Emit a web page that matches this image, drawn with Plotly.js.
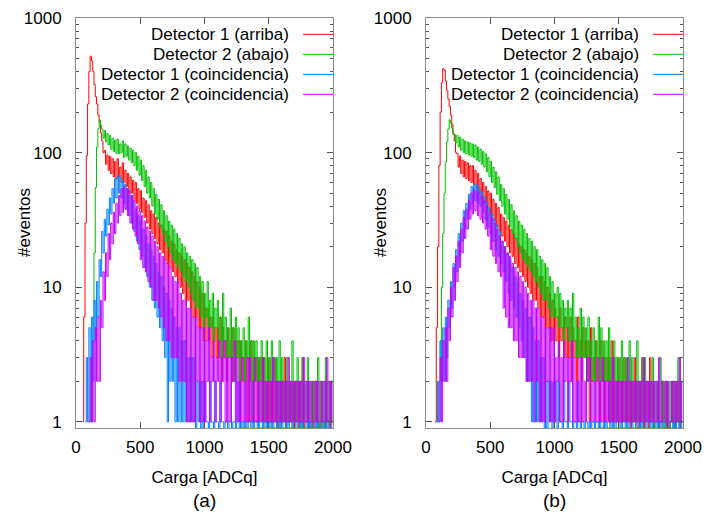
<!DOCTYPE html>
<html>
<head>
<meta charset="utf-8">
<script src="https://cdn.plot.ly/plotly-3.0.1.min.js"></script>
<style>html,body{margin:0;padding:0;background:#fff}#chart{width:713px;height:512px}</style>
</head>
<body>
<div id="chart"></div>
<script>
// ---- data (histogram counts, bins of 10 ADCq starting at 0) ----
const binWidth = 10;
const seriesNames = ['Detector 1 (arriba)', 'Detector 2 (abajo)', 'Detector 1 (coincidencia)', 'Detector 2 (coincidencia)'];
const seriesColors = ['#ff0000', '#00c000', '#0080ff', '#c000ff'];
const panelLabels = ['(a)', '(b)'];
const xTitle = 'Carga [ADCq]';
const yTitle = '#eventos';
const xTickVals = [0, 500, 1000, 1500, 2000];
const yTickVals = [1, 10, 100, 1000];
const yTickText = ['1', '10', '100', '1000'];
const yMinorVals = [2,3,4,5,6,7,8,9,20,30,40,50,60,70,80,90,200,300,400,500,600,700,800,900];

const redA = [
 0,0,0,0,0,1,6,30,95,230,
 400,520,480,400,320,260,230,190,170,140,
 122,100,104,82,96,74,94,70,90,66,
 86,64,90,66,78,60,84,60,74,56,
 70,50,66,50,62,44,60,42,54,38,
 52,36,46,33,44,30,41,27,37,25,
 35,23,33,21,30,19,29,18,27,16,
 26,15,24,14,22,13,21,12,19,11,
 18,10,17,9,16,8,15,8,14,7,
 13,6,12,6,11,5,10,5,9,4,
 7,4,7,4,6,3,6,4,5,3,
 5,3,6,2,5,3,4,2,5,3,
 4,2,5,2,4,3,4,1,4,2,
 3,2,4,1,3,2,4,1,3,2,
 3,1,3,2,3,1,3,1,2,1,
 3,1,2,1,3,1,2,0,2,1,
 2,1,3,0,2,1,2,1,2,0,
 2,1,2,0,2,1,3,0,1,1,
 2,0,1,1,2,0,2,1,1,0,
 2,1,1,0,2,1,1,0,2,1];
const greenA = [
 0,0,0,0,0,0,0,0,0,0,
 0,0,1,4,18,55,110,150,175,160,
 150,128,146,120,138,114,134,106,128,102,
 124,98,126,98,116,100,122,92,116,94,
 112,88,108,84,104,80,100,74,94,68,
 88,62,80,56,74,50,66,46,60,40,
 54,35,49,32,45,28,41,25,37,22,
 34,20,31,18,29,16,27,15,25,14,
 23,13,21,12,20,11,18,10,17,9,
 16,8,15,7,14,7,12,6,11,5,
 9,6,11,5,8,5,9,4,7,5,
 8,4,6,3,9,4,6,3,5,3,
 7,3,5,2,6,3,5,2,4,3,
 5,2,4,3,6,2,4,1,4,2,
 4,2,3,1,4,2,3,1,4,2,
 3,1,4,2,3,1,3,1,4,1,
 3,1,2,1,3,1,2,1,4,1,
 2,1,3,1,2,0,3,1,2,1,
 3,1,2,0,2,1,2,1,3,0,
 2,1,2,0,3,1,2,1,2,1];
const blueA = [
 0,0,0,0,0,0,0,1,3,1,
 5,1,6,2,8,4,11,6,16,12,
 26,18,32,24,38,29,46,35,54,42,
 64,46,68,50,66,46,62,42,58,38,
 54,34,48,30,44,26,38,22,34,19,
 31,17,27,14,24,12,21,10,19,8,
 17,7,15,6,13,5,12,4,10,3,
 9,1,8,2,7,2,6,1,5,1,
 5,1,4,1,4,1,3,1,3,1,
 3,1,3,0,2,1,2,0,2,0,
 2,1,1,0,2,1,1,0,2,1,
 1,0,2,1,1,0,1,1,0,1,
 1,0,1,1,0,1,2,0,1,0,
 1,0,1,0,1,1,0,1,0,1,
 1,0,1,0,0,1,0,1,0,1,
 0,1,0,1,0,0,1,0,1,0,
 1,0,0,1,0,1,0,0,1,0,
 0,1,0,0,1,0,1,0,0,1,
 0,1,0,1,0,0,1,0,1,0,
 0,1,0,0,1,0,1,0,0,1];
const purpleA = [
 0,0,0,0,0,0,0,0,0,0,
 1,3,1,4,1,5,2,6,2,8,
 5,13,8,18,12,25,16,30,21,36,
 25,42,30,48,34,54,36,56,38,54,
 34,52,30,48,27,44,24,40,21,37,
 16,34,14,31,13,28,11,26,10,24,
 8,22,8,20,7,18,6,17,5,16,
 4,15,4,14,3,12,3,11,3,11,
 2,9,2,8,2,8,1,7,1,7,
 1,6,1,6,2,5,1,5,1,5,
 1,4,2,5,1,3,2,4,1,3,
 2,4,1,3,2,4,1,3,1,3,
 1,3,2,4,1,3,1,2,1,3,
 1,2,1,3,1,3,1,2,1,3,
 1,2,1,2,1,3,1,2,1,2,
 1,2,1,3,1,2,1,2,1,2,
 1,2,1,2,1,3,1,2,1,2,
 1,2,1,2,1,2,1,3,1,2,
 1,2,1,2,1,1,2,1,2,1,
 1,2,1,2,1,3,1,2,1,2];

const redB = [
 0,0,0,0,0,0,0,1,5,20,
 80,200,330,420,410,340,290,250,220,190,
 162,138,122,100,98,78,94,70,88,66,
 86,64,84,62,80,60,80,58,74,54,
 70,50,64,46,60,42,56,40,52,36,
 50,34,45,31,42,28,39,26,35,24,
 33,22,31,20,29,18,27,17,25,15,
 23,14,21,13,20,12,19,11,18,10,
 17,9,16,8,15,8,14,7,12,6,
 12,6,11,5,10,5,9,4,8,4,
 7,4,6,3,7,4,5,3,6,3,
 5,3,6,2,5,3,4,2,6,3,
 4,2,5,3,4,2,4,1,5,2,
 3,2,4,2,3,1,4,2,3,1,
 3,2,3,1,4,1,3,1,2,1,
 3,1,2,1,3,1,2,1,2,0,
 2,1,3,1,2,0,2,1,3,0,
 2,1,2,0,3,1,2,0,1,1,
 2,0,1,1,2,1,2,0,1,0,
 1,1,2,0,1,1,2,0,1,1];
const greenB = [
 0,0,0,0,0,0,0,0,0,1,
 2,4,10,25,50,85,120,150,175,165,
 152,136,136,118,134,110,130,104,126,100,
 122,98,120,96,118,94,116,92,114,88,
 110,86,106,82,102,78,98,72,92,66,
 86,60,78,55,72,49,66,44,58,40,
 54,35,49,32,45,28,41,25,37,23,
 34,20,31,18,29,16,27,15,25,14,
 23,13,22,12,20,11,19,10,17,9,
 16,8,15,8,14,7,12,6,11,6,
 9,6,10,5,9,5,8,4,7,5,
 8,4,7,3,9,4,6,3,5,3,
 7,3,6,3,5,2,6,3,4,2,
 5,2,4,3,6,2,5,2,4,2,
 4,2,5,1,3,2,4,1,3,2,
 3,1,4,2,3,1,3,1,4,2,
 3,1,2,1,4,1,2,1,3,1,
 3,1,2,1,2,1,3,0,2,1,
 2,1,3,1,2,0,2,1,2,1,
 2,1,2,0,2,1,3,1,2,1];
const blueB = [
 0,0,0,0,0,0,0,0,1,2,
 1,4,2,5,2,6,3,8,5,11,
 7,15,10,19,13,25,17,30,22,37,
 27,42,32,49,38,56,42,58,44,58,
 42,55,40,51,36,47,32,43,28,39,
 25,35,22,32,19,29,17,26,15,22,
 13,20,11,18,9,16,8,14,7,12,
 6,11,5,9,4,8,3,7,2,6,
 2,6,1,5,1,4,1,4,1,3,
 1,3,0,2,0,2,1,2,0,2,
 1,2,0,2,1,1,0,2,1,1,
 0,2,1,1,0,1,1,0,2,1,
 0,1,1,0,1,1,0,1,0,1,
 1,0,1,1,0,1,0,0,1,0,
 1,0,0,1,0,1,0,1,0,0,
 1,0,1,0,0,1,0,1,0,0,
 1,0,0,1,0,0,1,0,1,0,
 0,1,0,0,1,0,1,0,0,1,
 0,1,0,1,0,0,1,0,0,1,
 0,0,1,0,1,0,0,1,0,1];
const purpleB = [
 0,0,0,0,0,0,0,0,0,0,
 1,3,1,4,2,5,2,7,4,10,
 6,14,8,17,11,22,14,27,18,33,
 23,38,27,44,32,50,35,53,37,52,
 34,50,32,47,30,44,27,40,24,36,
 19,33,17,30,15,27,13,24,12,22,
 7,20,6,18,5,17,5,15,4,14,
 4,13,3,12,3,11,3,10,2,9,
 2,8,2,8,1,7,2,7,1,6,
 1,6,1,5,2,5,1,5,1,5,
 1,3,2,4,1,3,1,4,2,3,
 1,3,2,4,1,3,1,2,1,3,
 1,3,1,2,1,3,2,3,1,2,
 1,2,1,3,1,2,1,3,1,2,
 1,2,1,2,1,3,1,2,1,2,
 1,2,1,2,1,2,1,3,1,2,
 1,2,1,2,1,2,1,2,1,3,
 1,2,1,2,1,2,1,2,1,2,
 1,3,1,2,1,1,2,1,2,1,
 1,2,1,2,1,2,1,3,1,2];

// ---- rendering ----
const FONT = '"Liberation Sans", Arial, Helvetica, sans-serif';
const W = 713, H = 512;
const yFloor = 0.9;               // bottom of the log axis; empty bins drop to it
const panels = [
  {series: [redA, greenA, blueA, purpleA], left: 76, right: 333, ytitleX: 24, xa: 'x', ya: 'y'},
  {series: [redB, greenB, blueB, purpleB], left: 426, right: 683, ytitleX: 380, xa: 'x2', ya: 'y2'}
];
const plotTop = 18, plotBottom = 428;

function toSteps(counts) {
  const x = [], y = [];
  let started = false;
  counts.forEach((c, i) => {
    if (c > 0) started = true;
    x.push(i * binWidth);
    y.push(c > 0 ? c : (started ? yFloor : null));
  });
  x.push(counts.length * binWidth);
  y.push(y[y.length - 1]);
  return {x, y};
}

const traces = [];
panels.forEach(p => {
  p.series.forEach((counts, k) => {
    const s = toSteps(counts);
    traces.push({
      type: 'scatter', mode: 'lines', x: s.x, y: s.y,
      xaxis: p.xa, yaxis: p.ya, name: seriesNames[k],
      line: {color: seriesColors[k], width: 1, shape: 'hv'},
      connectgaps: false, showlegend: false, hoverinfo: 'skip'
    });
  });
});

const axisFont = {family: FONT, size: 17, color: '#000'};
const common = {
  showline: true, mirror: 'ticks', linecolor: '#8c8c8c', linewidth: 1,
  ticks: 'inside', ticklen: 6, tickwidth: 1, tickcolor: '#555',
  tickfont: axisFont, showgrid: false, zeroline: false, fixedrange: true
};
const layout = {
  width: W, height: H, margin: {l: 0, r: 0, t: 0, b: 0},
  paper_bgcolor: '#fff', plot_bgcolor: '#fff', showlegend: false,
  font: {family: FONT, size: 17, color: '#000'},
  annotations: [], shapes: []
};
const yDomain = [1 - plotBottom / H, 1 - plotTop / H];
panels.forEach((p, i) => {
  const sx = i === 0 ? '' : '2';
  layout['xaxis' + sx] = Object.assign({}, common, {
    domain: [p.left / W, p.right / W], range: [0, 2000], anchor: 'y' + sx,
    tickmode: 'array', tickvals: xTickVals, ticklabelstandoff: 4,
    title: {text: xTitle, font: axisFont, standoff: 14}, automargin: false
  });
  layout['yaxis' + sx] = Object.assign({}, common, {
    domain: yDomain, type: 'log', range: [Math.log10(yFloor), 3], anchor: 'x' + sx,
    tickmode: 'array', tickvals: yTickVals, ticktext: yTickText, ticklabelstandoff: 10,
    minor: {tickmode: 'array', tickvals: yMinorVals, ticks: 'inside', ticklen: 3, tickcolor: '#555', showgrid: false},
    automargin: false
  });
  // y-axis title (placed close to the tick labels, as in the original)
  layout.annotations.push({
    xref: 'paper', yref: 'paper', x: p.ytitleX / W, y: 1 - (plotTop + plotBottom) / 2 / H,
    text: yTitle, textangle: -90, showarrow: false, font: axisFont,
    xanchor: 'center', yanchor: 'middle'
  });
  // panel label
  layout.annotations.push({
    xref: 'paper', yref: 'paper', x: (p.left + p.right) / 2 / W, y: 1 - 500 / H,
    text: panelLabels[i], showarrow: false, font: {family: FONT, size: 19, color: '#000'},
    xanchor: 'center', yanchor: 'middle'
  });
  // key (text on the left, sample line on the right)
  seriesNames.forEach((nm, k) => {
    const yy = 1 - (34.3 + 20 * k) / H;
    layout.annotations.push({
      xref: 'paper', yref: 'paper', x: (p.right - 42) / W, y: yy, text: nm,
      showarrow: false, xanchor: 'right', yanchor: 'middle', font: axisFont
    });
    layout.shapes.push({
      type: 'line', xref: 'paper', yref: 'paper', x0: (p.right - 30) / W, x1: p.right / W,
      y0: yy, y1: yy, line: {color: seriesColors[k], width: 1}
    });
  });
});

Plotly.newPlot('chart', traces, layout, {staticPlot: true, displayModeBar: false});
</script>
</body>
</html>
